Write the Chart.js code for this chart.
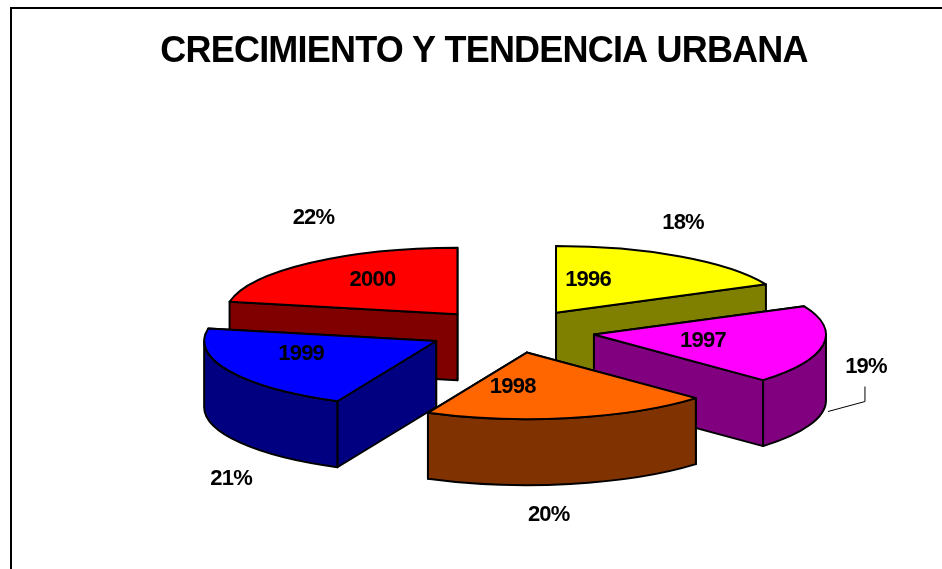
<!DOCTYPE html>
<html>
<head>
<meta charset="utf-8">
<title>Crecimiento y tendencia urbana</title>
<script src="https://cdn.jsdelivr.net/npm/chart.js@4"></script>
<style>
html, body { margin: 0; background: #fff; overflow: hidden; }
#frame { position: absolute; left: 10px; top: 7px; width: 960px; height: 600px; border: 2px solid #000; box-sizing: content-box; overflow: hidden; }
canvas { display: block; }
</style>
</head>
<body>
<div id="frame"><canvas id="pieChart" width="944" height="560"></canvas></div>
<script>
var years = ['1996', '1997', '1998', '1999', '2000'];
var shares = [18, 19, 20, 21, 22];
var topColors = ['#FFFF00', '#FF00FF', '#FF6600', '#0000FF', '#FF0000'];
var sideColors = ['#808000', '#800080', '#803300', '#000080', '#800000'];

var tilt = 0.287;       // squash of the pie plane
var explodeTilt = 0.26; // squash of the pull-out distance
var depth = 66;         // height of the slices
var pieShift = 27;      // the pie sits right of the title's centre
var labelFont = 'bold 22px "Liberation Sans", Arial, sans-serif';

// text offsets from each slice's tip
var yearOffsets = [[32, -33], [109, 6], [-14, 34], [-135, 13], [-85, -34]];
var shareOffsets = [[127, -90], [272, 32], [22, 162], [-205, 138], [-144, -96]];

// pull the slice tip out along its middle angle, flattened by the tilt
function sliceGeometry(arc) {
    var p = arc.getProps(['x', 'y', 'startAngle', 'endAngle', 'outerRadius'], true);
    var mid = (p.startAngle + p.endAngle) / 2;
    var off = arc.options.offset;
    return {
        x: p.x + pieShift + Math.cos(mid) * off,
        y: p.y + Math.sin(mid) * off * explodeTilt,
        rx: p.outerRadius,
        ry: p.outerRadius * tilt,
        a0: p.startAngle,
        a1: p.endAngle
    };
}

function rimPoint(s, a) {
    return [s.x + Math.cos(a) * s.rx, s.y + Math.sin(a) * s.ry];
}

function radialWall(ctx, s, a) {
    var e = rimPoint(s, a);
    ctx.beginPath();
    ctx.moveTo(s.x, s.y);
    ctx.lineTo(e[0], e[1]);
    ctx.lineTo(e[0], e[1] + depth);
    ctx.lineTo(s.x, s.y + depth);
    ctx.closePath();
    ctx.fill();
    ctx.stroke();
}

// only the part of the rim below the horizontal faces the viewer
function curvedWall(ctx, s) {
    var ranges = [[s.a0, s.a1], [s.a0 - 2 * Math.PI, s.a1 - 2 * Math.PI]];
    ranges.forEach(function (r) {
        var from = Math.max(r[0], 0);
        var to = Math.min(r[1], Math.PI);
        if (to <= from) return;
        ctx.beginPath();
        ctx.ellipse(s.x, s.y, s.rx, s.ry, 0, from, to);
        ctx.ellipse(s.x, s.y + depth, s.rx, s.ry, 0, to, from, true);
        ctx.closePath();
        ctx.fill();
        ctx.stroke();
    });
}

var pie3d = {
    id: 'pie3d',
    beforeDraw: function (chart) {
        chart.ctx.letterSpacing = '-0.8px';
    },
    beforeDatasetDraw: function (chart) {
        var ctx = chart.ctx;
        var arcs = chart.getDatasetMeta(0).data;
        var slices = arcs.map(sliceGeometry);
        var order = slices.map(function (s, i) { return i; });
        order.sort(function (a, b) { return slices[a].y - slices[b].y; });

        ctx.save();
        ctx.letterSpacing = '0px';
        ctx.lineWidth = 2;
        ctx.strokeStyle = '#000';
        ctx.lineJoin = 'round';
        order.forEach(function (i) {
            var s = slices[i];
            ctx.fillStyle = sideColors[i];
            // the wall whose rim end is higher is the back one
            var backFirst = rimPoint(s, s.a0)[1] < rimPoint(s, s.a1)[1];
            radialWall(ctx, s, backFirst ? s.a0 : s.a1);
            radialWall(ctx, s, backFirst ? s.a1 : s.a0);
            curvedWall(ctx, s);
            ctx.fillStyle = arcs[i].options.backgroundColor;
            ctx.beginPath();
            ctx.moveTo(s.x, s.y);
            ctx.ellipse(s.x, s.y, s.rx, s.ry, 0, s.a0, s.a1);
            ctx.closePath();
            ctx.fill();
            ctx.stroke();
        });

        ctx.fillStyle = '#000';
        ctx.font = labelFont;
        ctx.letterSpacing = '-0.8px';
        ctx.textAlign = 'center';
        ctx.textBaseline = 'middle';
        slices.forEach(function (s, i) {
            ctx.fillText(years[i], s.x + yearOffsets[i][0], s.y + yearOffsets[i][1]);
            ctx.fillText(shares[i] + '%', s.x + shareOffsets[i][0], s.y + shareOffsets[i][1]);
        });

        // leader line of the 1997 share
        var lx = slices[1].x + shareOffsets[1][0] - 1;
        var ly = slices[1].y + shareOffsets[1][1];
        ctx.lineWidth = 1;
        ctx.beginPath();
        ctx.moveTo(lx, ly + 20);
        ctx.lineTo(lx, ly + 35);
        ctx.lineTo(lx - 37, ly + 45);
        ctx.stroke();
        ctx.restore();
        return false;
    }
};

var ctx = document.getElementById('pieChart').getContext('2d');
var myChart = new Chart(ctx, {
    type: 'pie',
    data: {
        labels: years,
        datasets: [{
            data: shares,
            backgroundColor: topColors,
            borderColor: '#000',
            borderWidth: 0,
            offset: 84
        }]
    },
    options: {
        responsive: false,
        animation: false,
        radius: 232,
        plugins: {
            legend: { display: false },
            tooltip: { enabled: false },
            title: {
                display: true,
                text: 'CRECIMIENTO Y TENDENCIA URBANA',
                color: '#000',
                font: { family: '"Liberation Sans", Arial, sans-serif', size: 36, weight: 'bold' },
                padding: { top: 21, bottom: 20 }
            }
        }
    },
    plugins: [pie3d]
});
</script>
</body>
</html>
